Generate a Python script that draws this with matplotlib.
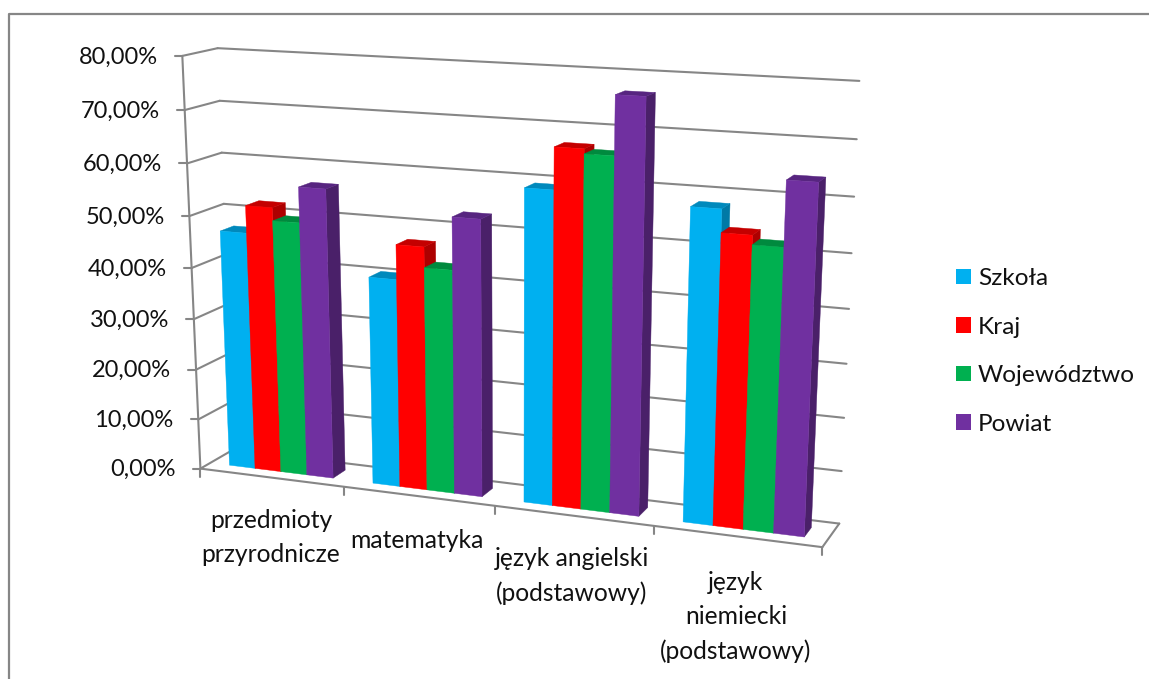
import numpy as np
import matplotlib
matplotlib.use("Agg")
import matplotlib.pyplot as plt
from matplotlib.patches import Patch, Polygon

plt.rcParams["font.family"] = ["Lato", "DejaVu Sans"]

categories = [
    "przedmioty\nprzyrodnicze",
    "matematyka",
    "język angielski\n(podstawowy)",
    "język\nniemiecki\n(podstawowy)",
]
series_names = ["Szkoła", "Kraj", "Województwo", "Powiat"]
szkola = [46.7, 40.3, 59.2, 58.0]
kraj = [52.0, 46.9, 66.9, 53.8]
wojewodztwo = [49.5, 43.0, 66.0, 52.1]
powiat = [56.3, 52.9, 76.7, 63.8]
y_ticks = [0, 10, 20, 30, 40, 50, 60, 70, 80]

FRONT = ["#00B0F0", "#FF0000", "#00B050", "#7030A0"]
TOP = ["#0089BC", "#C40000", "#008A3E", "#572580"]
SIDE = ["#0079A6", "#AD0000", "#00793A", "#4A2069"]
GRID = "#868686"
TEXT = "#111111"

GAP = 1.5          # gap width, in bar widths
DEPTH = (0.3, 0.7) # bar extent along the floor depth
Y_MAX = 80.0
TICK_FONT = 17.0
CAT_FONT = 17.7
LEGEND_FONT = 17.6
DARK_LW = 1.5

# box corners on screen: (category pos, depth, value) -> pixel
calib = [
    ((0, 0, 0), (200.7, 466.2)),
    ((0, 0, 80), (181.7, 56.7)),
    ((0, 1, 0), (233.0, 452.0)),
    ((0, 1, 80), (218.3, 47.3)),
    ((4, 1, 0), (839.0, 521.7)),
    ((4, 1, 80), (859.3, 81.0)),
    ((4, 0, 0), (822.7, 549.0)),
]


def fit_projection(points):
    rows, rhs = [], []
    for (x, d, v), (u, w) in points:
        X = [x / 4, d, v / Y_MAX, 1]
        rows.append(X + [0, 0, 0, 0] + [-u * c for c in X[:3]])
        rhs.append(u)
        rows.append([0, 0, 0, 0] + X + [-w * c for c in X[:3]])
        rhs.append(w)
    sol = np.linalg.lstsq(np.array(rows, float), np.array(rhs, float), rcond=None)[0]
    return np.append(sol, 1.0).reshape(3, 4)


P = fit_projection(calib)


def project(x, d, v):
    p = P @ np.array([x / 4, d, v / Y_MAX, 1.0])
    return p[0] / p[2], p[1] / p[2]


def line(ax, a, b, lw=DARK_LW):
    ax.plot([a[0], b[0]], [a[1], b[1]], color=GRID, lw=lw, solid_capstyle="round", zorder=1)


fig = plt.figure(figsize=(11.49, 6.79), dpi=100)
ax = fig.add_axes([0, 0, 1, 1])
ax.set_xlim(0, 1149)
ax.set_ylim(679, 0)
ax.axis("off")

# chart frame, only left and top edges are inside the picture
ax.plot([8.5, 8.5, 1149], [679, 13.5, 13.5], color=GRID, lw=1.6, zorder=1)

# walls
for v in y_ticks:
    line(ax, project(0, 0, v), project(0, 1, v))
    line(ax, project(0, 1, v), project(4, 1, v))
    tick = project(0, 0, v)
    line(ax, (tick[0] - 7.7, tick[1]), tick)
    ax.text(tick[0] - 24.7, tick[1] + 1, f"{v},00%", ha="right", va="center",
            fontsize=TICK_FONT, color=TEXT)

# floor and axes
line(ax, project(0, 0, 0), project(0, 0, Y_MAX))
line(ax, project(0, 0, 0), project(4, 0, 0))
line(ax, project(4, 0, 0), project(4, 1, 0))
for i in range(len(categories) + 1):
    tick = project(i, 0, 0)
    line(ax, tick, (tick[0], tick[1] + 8))

# bars, painted left to right
all_series = [szkola, kraj, wojewodztwo, powiat]
width = 1 / (len(all_series) + GAP)
for c in range(len(categories)):
    for s, values in enumerate(all_series):
        x0 = c + (GAP / 2 + s) * width
        x1 = x0 + width
        d0, d1 = DEPTH
        v = values[c]
        side = [project(x1, d0, 0), project(x1, d1, 0), project(x1, d1, v), project(x1, d0, v)]
        top = [project(x0, d0, v), project(x1, d0, v), project(x1, d1, v), project(x0, d1, v)]
        front = [project(x0, d0, 0), project(x1, d0, 0), project(x1, d0, v), project(x0, d0, v)]
        for poly, colour in ((side, SIDE[s]), (top, TOP[s]), (front, FRONT[s])):
            ax.add_patch(Polygon(poly, closed=True, facecolor=colour, edgecolor=colour, lw=0.3, zorder=3))

# category labels
label_x = [271, 417, 572, 736]
label_y = [520, 540, 559, 583]
for name, lx, ly in zip(categories, label_x, label_y):
    for k, part in enumerate(name.split("\n")):
        ax.text(lx, ly + k * 34, part, ha="center", va="center", fontsize=CAT_FONT, color=TEXT)

handles = [Patch(facecolor=c, edgecolor="none") for c in FRONT]
ax.legend(
    handles,
    series_names,
    loc="upper left",
    bbox_to_anchor=(956, 268),
    bbox_transform=ax.transData,
    frameon=False,
    fontsize=LEGEND_FONT,
    labelcolor=TEXT,
    borderpad=0,
    borderaxespad=0,
    handlelength=0.61,
    handleheight=0.61,
    handletextpad=0.29,
    labelspacing=1.13,
)

fig.savefig("out.png", dpi=100)
